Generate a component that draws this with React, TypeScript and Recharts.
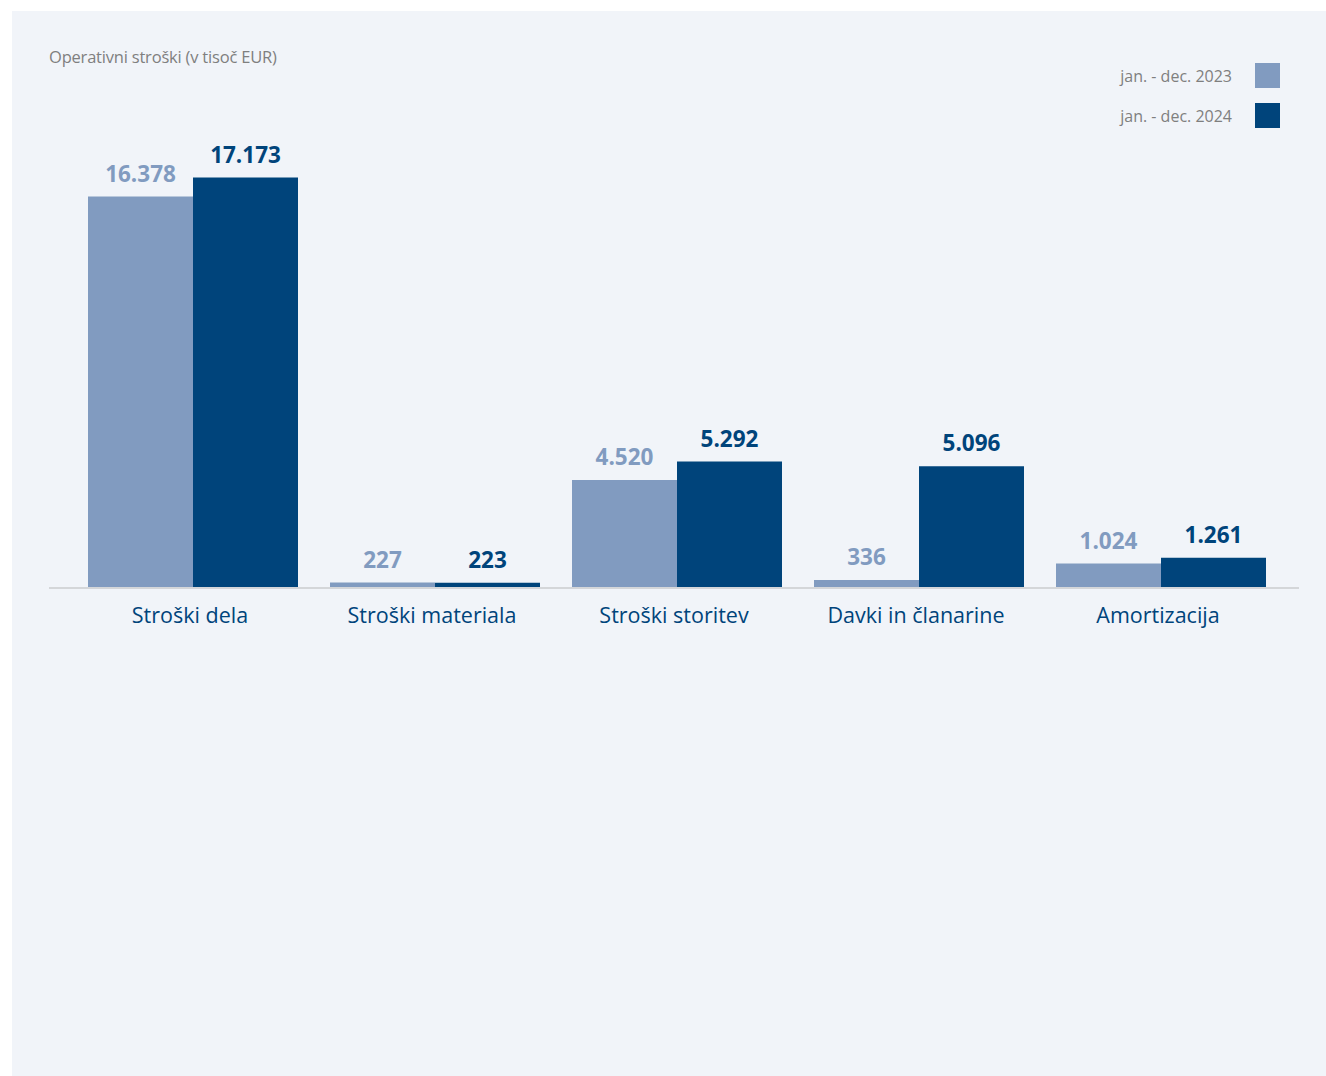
import React from "react";
import { BarChart, Bar, XAxis, YAxis, LabelList } from "recharts";

const categories = [
  "Stroški dela",
  "Stroški materiala",
  "Stroški storitev",
  "Davki in članarine",
  "Amortizacija",
];
const values2023 = [16378, 227, 4520, 336, 1024];
const values2024 = [17173, 223, 5292, 5096, 1261];
const seriesNames = ["jan. - dec. 2023", "jan. - dec. 2024"];

const LIGHT = "#819bc0";
const DARK = "#00447b";
const FONT = "'Open Sans', 'Noto Sans', sans-serif";

const data = categories.map((name, i) => ({
  name,
  y2023: values2023[i],
  y2024: values2024[i],
}));

const fmt = (v: any) => String(v).replace(/\B(?=(\d{3})+(?!\d))/g, ".");

const CategoryTick = (props: any) => {
  const { x, y, payload } = props;
  return (
    <text
      x={x - 3}
      y={y + 27}
      textAnchor="middle"
      fill={DARK}
      fontSize={21.5}
      fontFamily={FONT}
    >
      {payload.value}
    </text>
  );
};

export default function App() {
  return (
    <div
      style={{
        position: "absolute",
        left: 0,
        top: 0,
        width: 1326,
        height: 1076,
        background: "#ffffff",
        fontFamily: FONT,
      }}
    >
      <div
        style={{
          position: "absolute",
          left: 12,
          top: 11,
          width: 1314,
          height: 1065,
          background: "#f1f4f9",
        }}
      />
      <div
        style={{
          position: "absolute",
          left: 49,
          top: 45,
          fontSize: 16.5,
          color: "#7f7f7f",
          letterSpacing: -0.2,
        }}
      >
        Operativni stroški (v tisoč EUR)
      </div>
      {seriesNames.map((s, i) => (
        <div
          key={s}
          style={{
            position: "absolute",
            right: 1326 - 1280,
            top: 63 + i * 40,
            display: "flex",
            alignItems: "center",
            height: 25,
          }}
        >
          <span
            style={{
              fontSize: 16,
              color: "#7f7f7f",
              marginRight: 23,
            }}
          >
            {s}
          </span>
          <span
            style={{
              display: "inline-block",
              width: 25,
              height: 25,
              background: i === 0 ? LIGHT : DARK,
            }}
          />
        </div>
      ))}
      <div style={{ position: "absolute", left: 0, top: 0 }}>
        <BarChart
          width={1326}
          height={1076}
          data={data}
          margin={{ top: 110, right: 27, left: 49, bottom: 458 }}
          barCategoryGap={16}
          barGap={0}
        >
          <XAxis
            dataKey="name"
            height={30}
            padding={{ left: 23, right: 17 }}
            axisLine={{ stroke: "#d4d6d9", strokeWidth: 2 }}
            tickLine={false}
            tick={<CategoryTick />}
            interval={0}
          />
          <YAxis hide domain={[0, 20000]} />
          <Bar dataKey="y2023" fill={LIGHT} isAnimationActive={false}>
            <LabelList
              dataKey="y2023"
              position="top"
              offset={15}
              formatter={fmt}
              fill={LIGHT}
              fontSize={22.5}
              fontWeight={700}
              fontFamily={FONT}
            />
          </Bar>
          <Bar dataKey="y2024" fill={DARK} isAnimationActive={false}>
            <LabelList
              dataKey="y2024"
              position="top"
              offset={15}
              formatter={fmt}
              fill={DARK}
              fontSize={22.5}
              fontWeight={700}
              fontFamily={FONT}
            />
          </Bar>
        </BarChart>
      </div>
    </div>
  );
}
